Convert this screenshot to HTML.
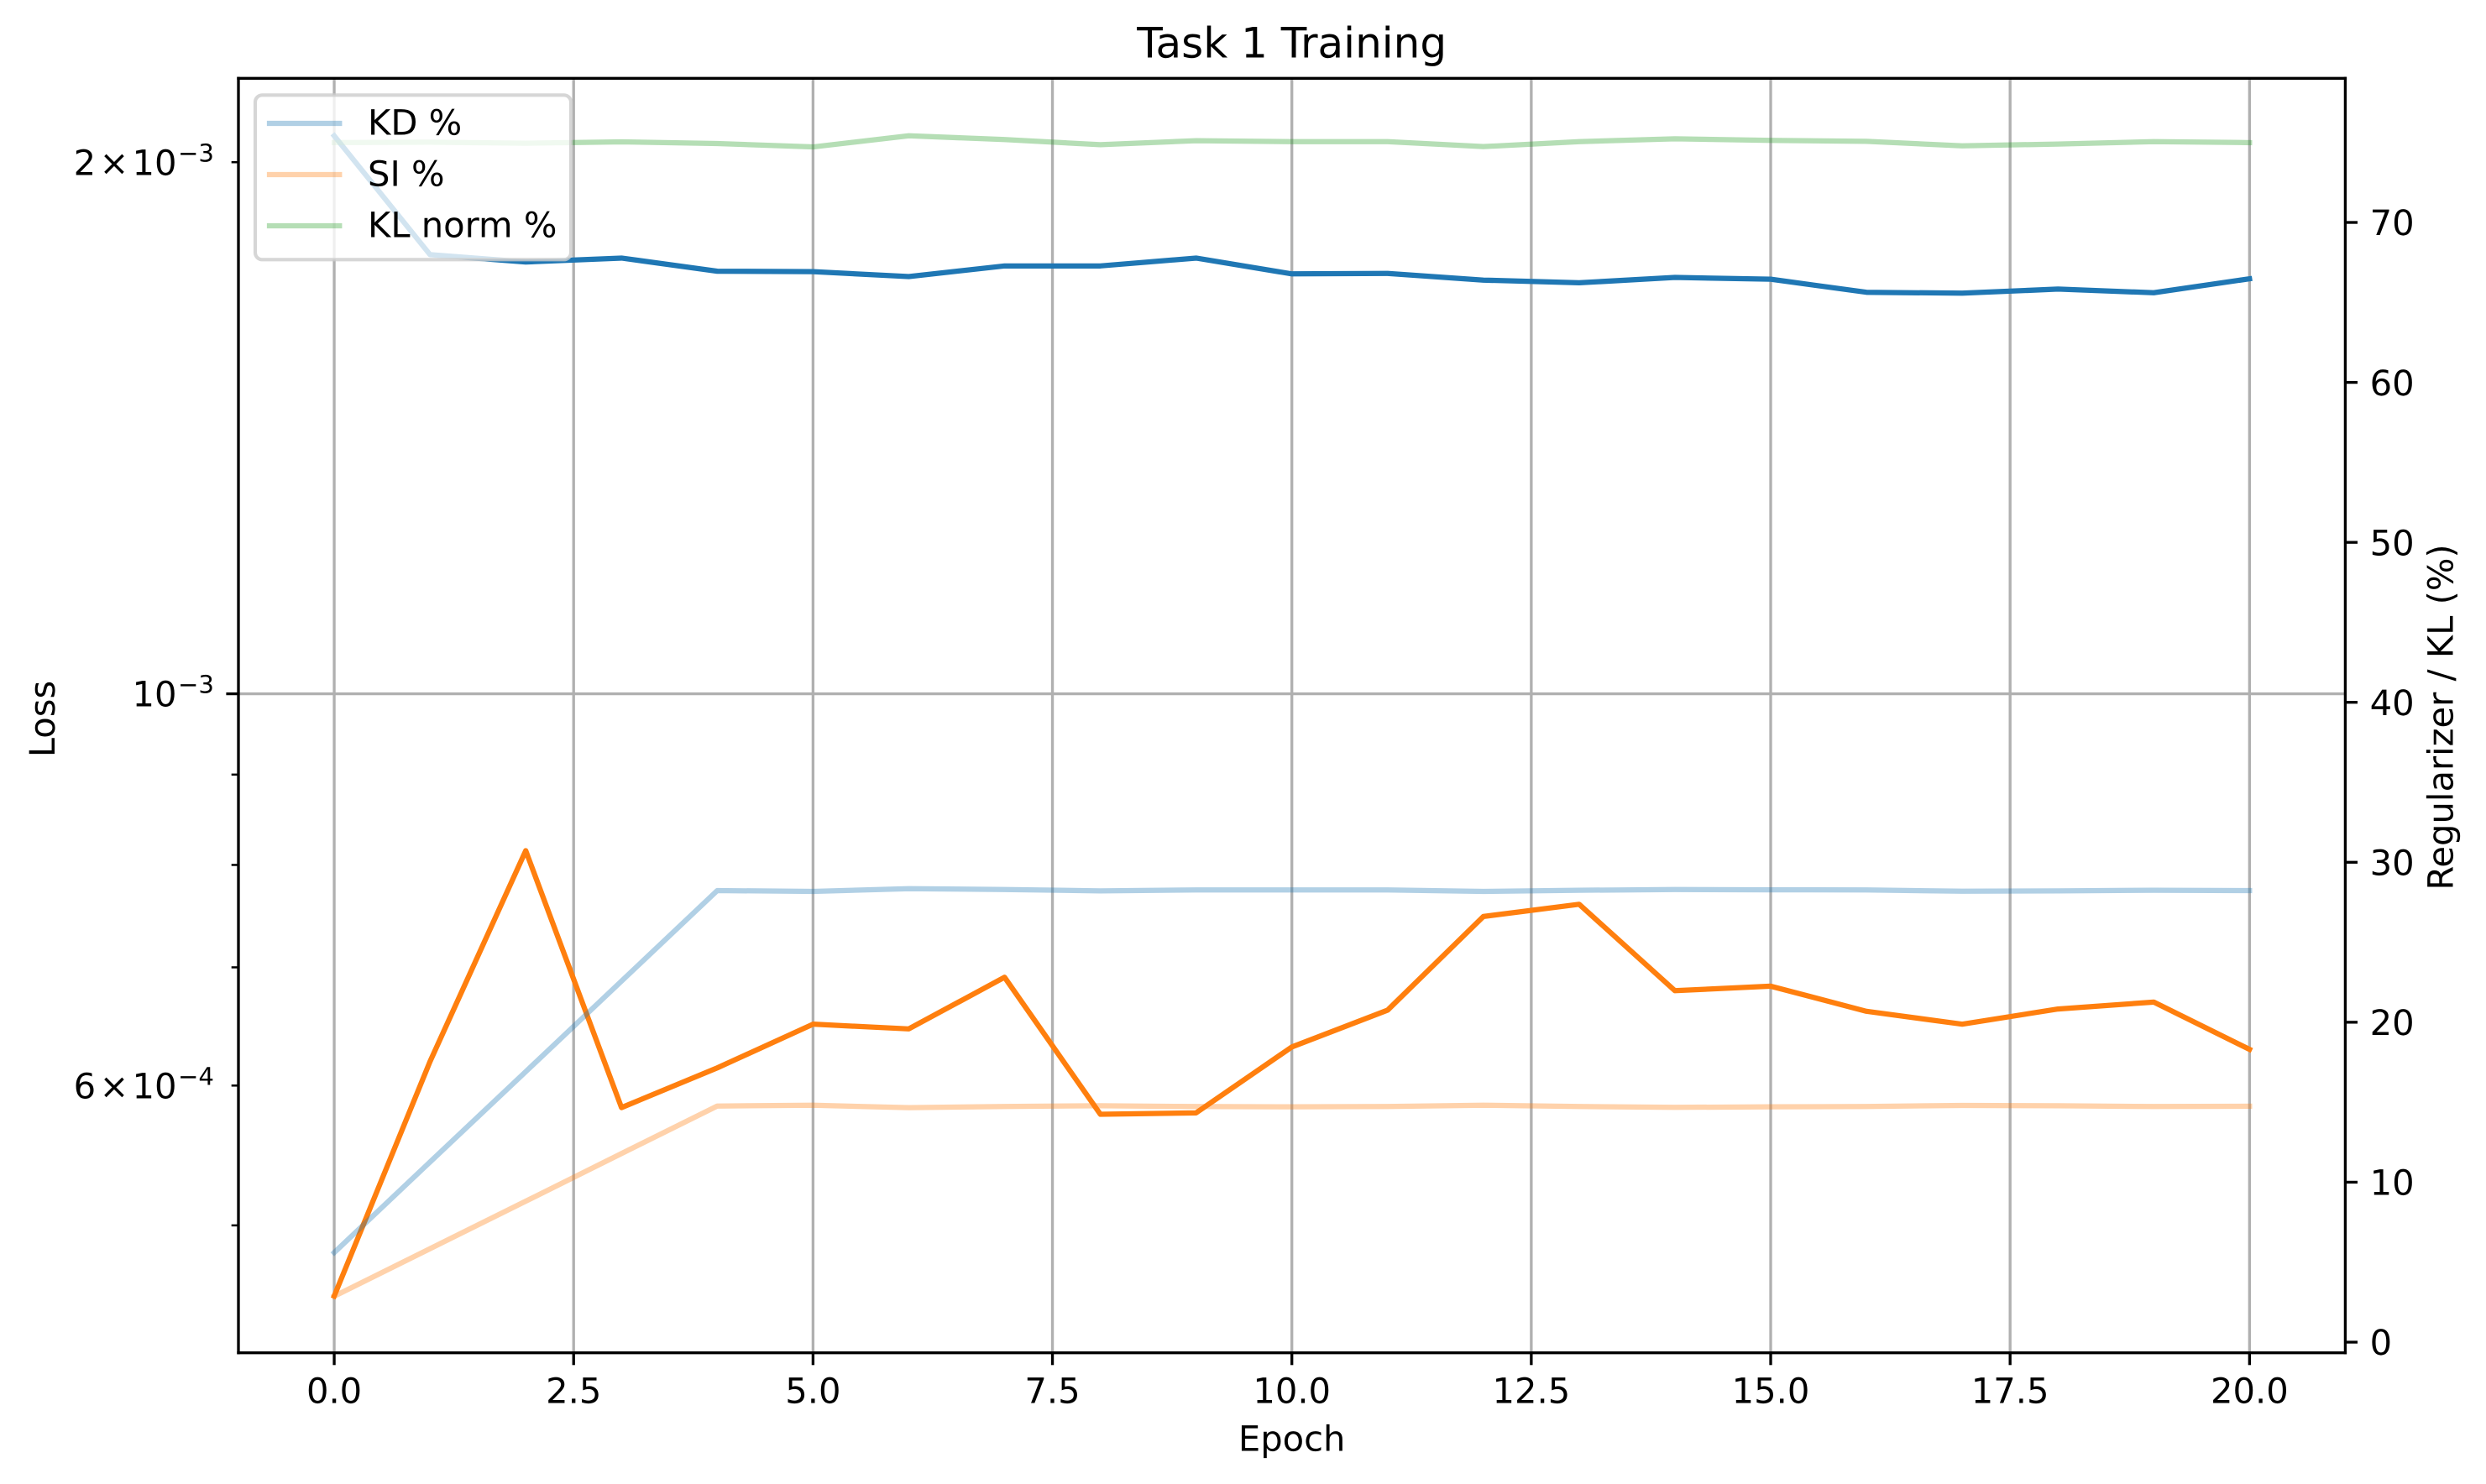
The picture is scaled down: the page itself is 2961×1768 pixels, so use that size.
<!DOCTYPE html>
<html lang="en">
<head>
<meta charset="utf-8">
<title>Task 1 Training</title>
<style>
html,body{margin:0;padding:0;background:#fff;}
svg{display:block;}
text{font-family:"DejaVu Sans","Liberation Sans",sans-serif;fill:#000;text-rendering:geometricPrecision;}
.t10{font-size:41.667px;}
.t12{font-size:50px;}
</style>
</head>
<body>
<svg xmlns="http://www.w3.org/2000/svg" width="2961" height="1768" viewBox="0 0 2961 1768">
  <rect x="0" y="0" width="2961" height="1768" fill="#ffffff"/>
  <g id="grid"></g>
  <g id="lossLines"></g>
  <g id="leftAxis"></g>
  <g id="xAxis"></g>
  <g id="pctLines"></g>
  <g id="rightAxis"></g>
  <g id="spines">
    <line x1="284" y1="91.6" x2="284" y2="1613.4" stroke="#000" stroke-width="3.33"/>
    <line x1="2793.4" y1="91.6" x2="2793.4" y2="1613.4" stroke="#000" stroke-width="3.33"/>
    <line x1="282.3" y1="93.3" x2="2795.1" y2="93.3" stroke="#000" stroke-width="3.33"/>
    <line x1="282.3" y1="1611.7" x2="2795.1" y2="1611.7" stroke="#000" stroke-width="3.33"/>
  </g>
  <text class="t12" x="1538.7" y="68.3" text-anchor="middle">Task 1 Training</text>
  <text class="t10" x="1538.7" y="1728.3" text-anchor="middle">Epoch</text>
  <text class="t10" transform="translate(65,856.5) rotate(-90)" text-anchor="middle">Loss</text>
  <text class="t10" transform="translate(2921.7,854.5) rotate(-90)" text-anchor="middle">Regularizer / KL (%)</text>
  <g id="legend">
    <rect x="304" y="113.3" width="376" height="196" rx="8.3" ry="8.3" fill="#ffffff" fill-opacity="0.8" stroke="#cccccc" stroke-opacity="0.8" stroke-width="4.17"/>
    <g>
      <line x1="321" y1="147" x2="404.3" y2="147" stroke="#1f77b4" stroke-opacity="0.35" stroke-width="6.25" stroke-linecap="square"/>
      <text class="t10" x="438" y="160.5">KD %</text>
    </g>
    <g>
      <line x1="321" y1="208" x2="404.3" y2="208" stroke="#ff7f0e" stroke-opacity="0.35" stroke-width="6.25" stroke-linecap="square"/>
      <text class="t10" x="438" y="221.5">SI %</text>
    </g>
    <g>
      <line x1="321" y1="269" x2="404.3" y2="269" stroke="#2ca02c" stroke-opacity="0.35" stroke-width="6.25" stroke-linecap="square"/>
      <text class="t10" x="438" y="282.5">KL norm %</text>
    </g>
  </g>
</svg>
<script>
const epochs = [0,1,2,3,4,5,6,7,8,9,10,11,12,13,14,15,16,17,18,19,20];
const lossBlue = [2.070e-3,1.773e-3,1.756e-3,1.765e-3,1.735e-3,1.734e-3,1.723e-3,1.747e-3,1.747e-3,1.765e-3,1.729e-3,1.730e-3,1.715e-3,1.709e-3,1.721e-3,1.717e-3,1.688e-3,1.686e-3,1.695e-3,1.687e-3,1.718e-3];
const lossOrange = [4.56e-4,6.19e-4,8.15e-4,5.83e-4,6.14e-4,6.50e-4,6.46e-4,6.91e-4,5.78e-4,5.79e-4,6.31e-4,6.62e-4,7.48e-4,7.60e-4,6.79e-4,6.83e-4,6.61e-4,6.50e-4,6.63e-4,6.69e-4,6.29e-4];
const kdPct = [5.60,11.26,16.91,22.57,28.23,28.18,28.35,28.30,28.21,28.27,28.27,28.27,28.18,28.25,28.30,28.28,28.27,28.19,28.21,28.25,28.23];
const siPct = [2.87,5.84,8.81,11.79,14.76,14.81,14.66,14.73,14.78,14.73,14.71,14.73,14.81,14.73,14.68,14.71,14.73,14.80,14.78,14.73,14.75];
const klPct = [74.99,75.02,74.95,75.04,74.93,74.72,75.42,75.18,74.86,75.11,75.05,75.05,74.74,75.05,75.23,75.13,75.07,74.79,74.90,75.05,74.99];
const xTicks = [0,2.5,5,7.5,10,12.5,15,17.5,20];
const xTickLabels = ['0.0','2.5','5.0','7.5','10.0','12.5','15.0','17.5','20.0'];
const rightTicks = [0,10,20,30,40,50,60,70];
const rightTickLabels = ['0','10','20','30','40','50','60','70'];
const leftMajorTicks = [1e-3];
const leftMinorTicks = [5e-4,6e-4,7e-4,8e-4,9e-4,2e-3];
const leftLabelValues = [2e-3,1e-3,6e-4];
const leftLabelMantissas = ['2','','6'];
const leftLabelExponents = ['\u22123','\u22123','\u22124'];

const xLim = [-1,21];
const lossLim = [4.2346e-4,2.2312e-3];
const pctLim = [-0.666,79.01];
const plotLeft = 284, plotRight = 2793.4, plotTop = 93.3, plotBottom = 1611.7;
const NS = 'http://www.w3.org/2000/svg';

function xScale(v){ return plotLeft + (v - xLim[0]) / (xLim[1] - xLim[0]) * (plotRight - plotLeft); }
function lossScale(v){
  const lo = Math.log10(lossLim[0]), hi = Math.log10(lossLim[1]);
  return plotBottom - (Math.log10(v) - lo) / (hi - lo) * (plotBottom - plotTop);
}
function pctScale(v){ return plotBottom - (v - pctLim[0]) / (pctLim[1] - pctLim[0]) * (plotBottom - plotTop); }

function makeLine(parent, x1, y1, x2, y2, color, width){
  const el = document.createElementNS(NS, 'line');
  el.setAttribute('x1', x1);
  el.setAttribute('y1', y1);
  el.setAttribute('x2', x2);
  el.setAttribute('y2', y2);
  el.setAttribute('stroke', color);
  el.setAttribute('stroke-width', width);
  parent.appendChild(el);
  return el;
}
function makeText(parent, x, y, content, anchor){
  const el = document.createElementNS(NS, 'text');
  el.setAttribute('class', 't10');
  el.setAttribute('x', x);
  el.setAttribute('y', y);
  el.setAttribute('text-anchor', anchor);
  el.textContent = content;
  parent.appendChild(el);
  return el;
}
function makeSeries(parent, values, scale, color, opacity){
  const el = document.createElementNS(NS, 'polyline');
  el.setAttribute('points', values.map(function(v, i){ return xScale(epochs[i]).toFixed(2) + ',' + scale(v).toFixed(2); }).join(' '));
  el.setAttribute('fill', 'none');
  el.setAttribute('stroke', color);
  el.setAttribute('stroke-opacity', opacity);
  el.setAttribute('stroke-width', 6.25);
  el.setAttribute('stroke-linejoin', 'round');
  el.setAttribute('stroke-linecap', 'square');
  parent.appendChild(el);
  return el;
}

const gridG = document.getElementById('grid');
const lossG = document.getElementById('lossLines');
const leftG = document.getElementById('leftAxis');
const xG = document.getElementById('xAxis');
const pctG = document.getElementById('pctLines');
const rightG = document.getElementById('rightAxis');

xTicks.forEach(function(t, i){
  const px = xScale(t);
  const grid = makeLine(gridG, px, plotTop, px, plotBottom, '#b0b0b0', 3.33);
  
  
  const tick = makeLine(xG, px, plotBottom, px, plotBottom + 14.6, '#000', 3.33);
  
  
  const label = makeText(xG, px, 1671.3, xTickLabels[i], 'middle');
  
  
});

leftMajorTicks.forEach(function(t){
  const py = lossScale(t);
  const grid = makeLine(gridG, plotLeft, py, plotRight, py, '#b0b0b0', 3.33);
  
  
  const tick = makeLine(leftG, plotLeft - 14.6, py, plotLeft, py, '#000', 3.33);
  
  
});

leftMinorTicks.forEach(function(t){
  const py = lossScale(t);
  const tick = makeLine(leftG, plotLeft - 8.33, py, plotLeft, py, '#000', 2.5);
  
  
});

leftLabelValues.forEach(function(v, i){
  const base = lossScale(v) + 15;
  const label = makeText(leftG, 157.5, base, '', 'start');
  
  
  if (leftLabelMantissas[i]) {
    const mant = document.createElementNS(NS, 'tspan');
    mant.setAttribute('x', 87.6);
    mant.setAttribute('y', base);
    mant.textContent = leftLabelMantissas[i];
    label.appendChild(mant);
    const times = document.createElementNS(NS, 'tspan');
    times.setAttribute('x', 118.5);
    times.setAttribute('y', base);
    times.textContent = '\u00d7';
    label.appendChild(times);
  }
  const ten = document.createElementNS(NS, 'tspan');
  ten.setAttribute('x', 157.5);
  ten.setAttribute('y', base);
  ten.textContent = '10';
  label.appendChild(ten);
  const sup = document.createElementNS(NS, 'tspan');
  sup.setAttribute('x', 212);
  sup.setAttribute('y', base - 16);
  sup.setAttribute('font-size', '29.17');
  sup.textContent = leftLabelExponents[i];
  label.appendChild(sup);
});

rightTicks.forEach(function(t, i){
  const py = pctScale(t);
  const tick = makeLine(rightG, plotRight, py, plotRight + 14.6, py, '#000', 3.33);
  
  
  const label = makeText(rightG, plotRight + 29.2, py + 15.2, rightTickLabels[i], 'start');
  
  
});

const blueLine = makeSeries(lossG, lossBlue, lossScale, '#1f77b4', 1);


const orangeLine = makeSeries(lossG, lossOrange, lossScale, '#ff7f0e', 1);


const kdLine = makeSeries(pctG, kdPct, pctScale, '#1f77b4', 0.35);


const siLine = makeSeries(pctG, siPct, pctScale, '#ff7f0e', 0.35);


const klLine = makeSeries(pctG, klPct, pctScale, '#2ca02c', 0.35);


</script>
</body>
</html>
